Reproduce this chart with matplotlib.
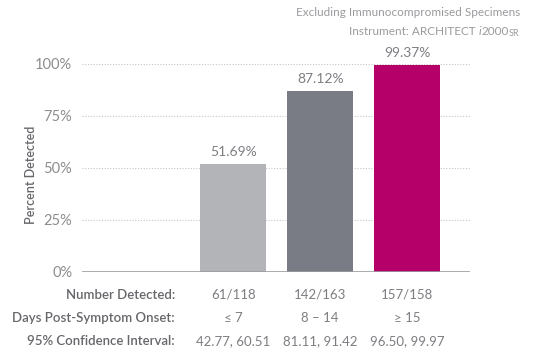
import matplotlib
matplotlib.use("Agg")
import matplotlib.pyplot as plt
from matplotlib.ticker import FuncFormatter

# data
groups = ["", "≤ 7", "8 – 14", "≥ 15"]
percent_detected = [None, 51.69, 87.12, 99.37]
number_detected = ["", "61/118", "142/163", "157/158"]
conf_interval = ["", "42.77, 60.51", "81.11, 91.42", "96.50, 99.97"]
bar_colors = [None, "#b3b4b8", "#797c84", "#b5006a"]
y_ticks = [0, 25, 50, 75, 100]

plt.rcParams["font.family"] = ["Lato", "DejaVu Sans"]
text_gray = "#7d7e82"
label_gray = "#66676b"
head_gray = "#9a9b9e"

fig = plt.figure(figsize=(5.5, 3.63), dpi=100)
ax = fig.add_axes([0.149, 0.2507, 0.7055, 0.573])

for i, val in enumerate(percent_detected):
    if val is None:
        continue
    ax.bar(i, val, width=0.76, color=bar_colors[i], zorder=3)
    ax.text(i, val + 3, f"{val:.2f}%", ha="center", va="bottom",
            fontsize=10, color=text_gray, clip_on=False)

ax.set_xlim(-0.736, 3.72)
ax.set_ylim(0, 100)
ax.set_yticks(y_ticks)
ax.yaxis.set_major_formatter(FuncFormatter(lambda v, p: f"{int(v)}%"))
ax.tick_params(axis="y", length=0, pad=7, labelsize=10.5, labelcolor="#8c8d90")
ax.set_xticks([])
for s in ax.spines.values():
    s.set_visible(False)
for t in y_ticks[1:]:
    ax.axhline(t, color="#c4c5c8", lw=0.8, ls=(0, (1, 1.5)), zorder=1)
ax.axhline(0, color="#9c9da0", lw=1.2, zorder=4)
ax.set_ylabel("Percent Detected", fontsize=9, color=label_gray,
              fontweight="semibold")
ax.yaxis.set_label_coords(-0.117, 0.466)

# table underneath the bars
row_labels = ["Number Detected:", "Days Post-Symptom Onset:", "95% Confidence Interval:"]
rows = [number_detected, groups, conf_interval]
row_y = [-11, -22.2, -33.2]
for lab, vals, y in zip(row_labels, rows, row_y):
    ax.text(0.333, y, lab, ha="right", va="center", fontsize=9.5,
            fontweight="semibold", color=label_gray, clip_on=False)
    for i, v in enumerate(vals):
        if v:
            ax.text(i, y, v, ha="center", va="center", fontsize=9.5,
                    color=text_gray, clip_on=False)

# header lines, top right
fig.text(0.945, 0.965, "Excluding Immunocompromised Specimens", ha="right",
         va="center", fontsize=8.5, color=head_gray)
sr = fig.text(0.945, 0.908, "SR", ha="right", va="center", fontsize=6.5,
              color=head_gray)
fig.canvas.draw()
x0 = sr.get_window_extent().x0 / fig.bbox.width
num = fig.text(x0, 0.912, "2000", ha="right", va="center", fontsize=8.5,
               color=head_gray)
fig.canvas.draw()
x1 = num.get_window_extent().x0 / fig.bbox.width
ital = fig.text(x1, 0.912, "i", ha="right", va="center", fontsize=8.5,
                color=head_gray, style="italic")
fig.canvas.draw()
x2 = ital.get_window_extent().x0 / fig.bbox.width
fig.text(x2, 0.912, "Instrument: ARCHITECT ", ha="right", va="center",
         fontsize=8.5, color=head_gray)

fig.savefig("out.png", dpi=100, facecolor="white")
